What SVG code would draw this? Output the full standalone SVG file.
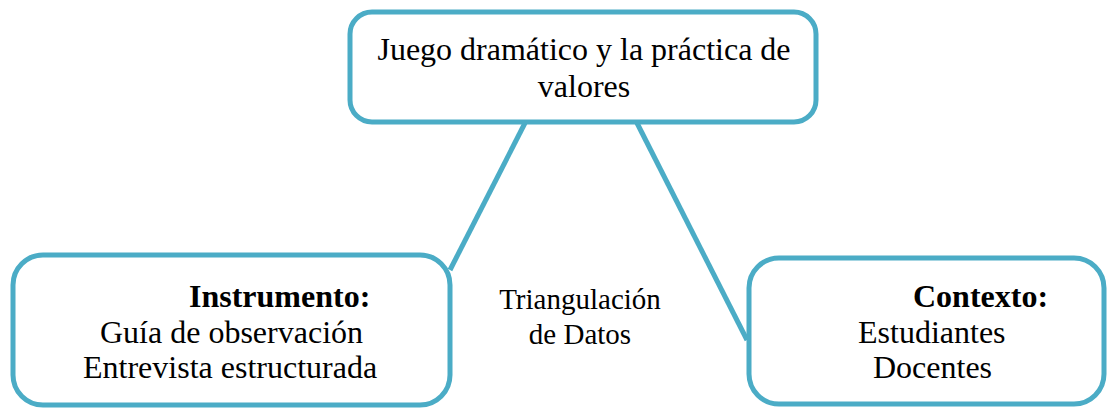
<svg xmlns="http://www.w3.org/2000/svg" width="1109" height="411" viewBox="0 0 1109 411">
<style>
.box{fill:#ffffff;stroke:#4BACC6;stroke-width:5}
.conn{stroke:#4BACC6;stroke-width:5;fill:none}
.t{font-family:"Liberation Serif","Times New Roman",serif;font-size:32px;fill:#000}
.b{font-weight:bold}
.tri{font-family:"Liberation Serif","Times New Roman",serif;font-size:29px;fill:#000}
</style>
<rect width="1109" height="411" fill="#ffffff"/>
<g id="connectors">
<line class="conn" x1="525" y1="123" x2="450" y2="270"/>
<line class="conn" x1="637" y1="123" x2="747" y2="340"/>
</g>
<g id="node-top">
<rect class="box" x="350" y="12" width="466" height="110" rx="22"/>
<text class="t" x="584" y="60" text-anchor="middle">Juego dramático y la práctica de</text>
<text class="t" x="584" y="97" text-anchor="middle">valores</text>
</g>
<g id="node-instrumento">
<rect class="box" x="13" y="255" width="437" height="150" rx="30"/>
<text class="t b" x="189" y="307">Instrumento:</text>
<text class="t" x="100" y="343">Guía de observación</text>
<text class="t" x="83" y="378">Entrevista estructurada</text>
</g>
<g id="node-contexto">
<rect class="box" x="749" y="258" width="355" height="146" rx="30"/>
<text class="t b" x="913" y="307">Contexto:</text>
<text class="t" x="858" y="343">Estudiantes</text>
<text class="t" x="873" y="378">Docentes</text>
</g>
<g id="label-triangulacion">
<text class="tri" x="580" y="309" text-anchor="middle">Triangulación</text>
<text class="tri" x="580" y="344" text-anchor="middle">de Datos</text>
</g>
</svg>
